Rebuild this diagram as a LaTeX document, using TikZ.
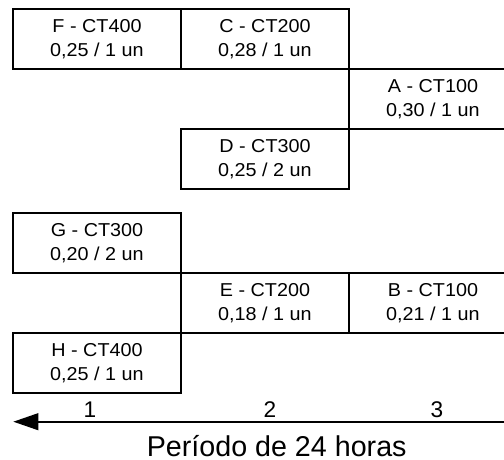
\documentclass[tikz,border=0pt]{standalone}
\usepackage{fontspec}
\setmainfont{Liberation Sans}
\newfontfamily\cellfont{Liberation Sans}[FakeStretch=1.06]
\usetikzlibrary{arrows.meta,positioning}

\begin{document}
\begin{tikzpicture}[x=0.75pt,y=-0.75pt,node distance=0pt,
  cell/.style={draw,line width=1.6pt,minimum width=126pt,minimum height=45pt,
    inner sep=0pt,outer sep=0pt,align=center,
    font=\cellfont\fontsize{14}{18}\selectfont},
  tick/.style={anchor=base,inner sep=0pt,font=\fontsize{17}{20}\selectfont}]
  \path[use as bounding box,clip] (0,0) rectangle (504,460);
  \node[cell,anchor=north west] (F) at (13,9)     {F - CT400\\0,25 / 1 un};
  \node[cell] (C) [right =of F]       {C - CT200\\0,28 / 1 un};
  \node[cell] (A) [below right =of C] {A - CT100\\0,30 / 1 un};
  \node[cell] (D) [below left =of A]  {D - CT300\\0,25 / 2 un};
  \node[cell,anchor=north west] (G) at (13,212.7) {G - CT300\\0,20 / 2 un};
  \node[cell] (E) [below right =of G] {E - CT200\\0,18 / 1 un};
  \node[cell] (B) [right =of E]       {B - CT100\\0,21 / 1 un};
  \node[cell] (H) [below left =of E]  {H - CT400\\0,25 / 1 un};
\coordinate (start) at (504,421.7);
\coordinate (stop)  at (13.3,421.7);
\draw[line width=1.6pt,-{Triangle[length=18.75pt,width=12.5pt]}] (start) -- (stop);
  \node[tick] (T1) at (90,417)  {1};
  \node[tick] (T2) at (270,417) {2};
  \node[tick] (T3) at (437,417) {3};
  \node[tick,font=\fontsize{21.5}{26}\selectfont] (period) at (276.7,456) {Período de 24 horas};
\end{tikzpicture}
\end{document}
